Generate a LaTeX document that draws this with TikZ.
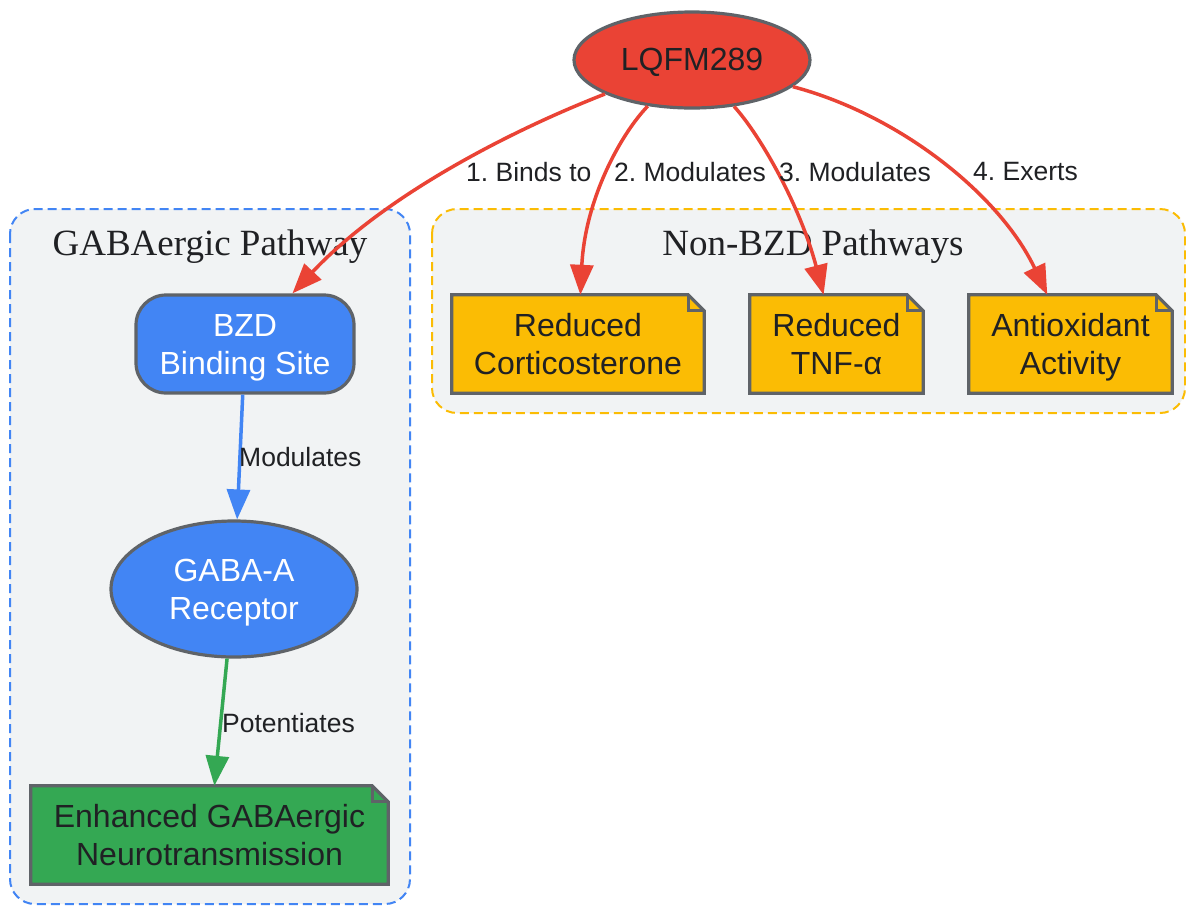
\documentclass[tikz,border=0pt]{standalone}
\usepackage{fontspec}
\setmainfont{Liberation Serif}
\newfontfamily\nodefont{Liberation Sans}
\usetikzlibrary{shapes.geometric,arrows.meta}
\definecolor{gblue}{HTML}{4285F4}
\definecolor{gred}{HTML}{EA4335}
\definecolor{gyellow}{HTML}{FBBC04}
\definecolor{ggreen}{HTML}{34A853}
\definecolor{gborder}{HTML}{5F6368}
\definecolor{gclust}{HTML}{F1F3F4}
\definecolor{gtext}{HTML}{202124}
\pgfdeclarelayer{bg}
\pgfdeclarelayer{notes}
\pgfsetlayers{bg,notes,main}
\frenchspacing
\newcommand\notedraw[2]{%
  \begin{pgfonlayer}{notes}
  \draw[line width=3.2pt, draw=gborder, fill=#2, line join=miter]
    (#1.south west) -- (#1.north west) -- ([xshift=-16pt]#1.north east)
    -- ([yshift=-16pt]#1.north east) -- (#1.south east) -- cycle;
  \draw[line width=3.2pt, draw=gborder, line join=miter]
    ([xshift=-16pt]#1.north east) -- ([xshift=-16pt,yshift=-16pt]#1.north east)
    -- ([yshift=-16pt]#1.north east);
  \end{pgfonlayer}}
\begin{document}
\begin{tikzpicture}[x=1pt,y=-1pt,
  base/.style={inner sep=0pt, align=center, font=\nodefont\fontsize{32}{37.3}\selectfont},
  twoline/.style={text height=61.3pt, text depth=1.3pt},
  ellnode/.style={base, ellipse, draw=gborder, line width=3.2pt},
  boxnode/.style={base, rectangle, rounded corners=30pt, draw=gborder, line width=3.2pt},
  notenode/.style={base, twoline, rectangle, text=gtext, minimum height=98pt},
  elabel/.style={inner sep=0pt, anchor=west, text=gtext, font=\nodefont\fontsize{26.5}{31}\selectfont},
  ctitle/.style={inner sep=0pt, anchor=base, text=gtext, font=\fontsize{37}{44}\selectfont},
  cluster/.style={line width=2pt, dash pattern=on 9pt off 5pt, rounded corners=25pt, fill=gclust},
  tip/.style={-{Triangle[length=30pt,width=23pt]}},
  redarrow/.style={draw=gred, line width=3.5pt, tip},
  bluearrow/.style={draw=gblue, line width=3.5pt, tip},
  greenarrow/.style={draw=ggreen, line width=3.5pt, tip}
]
\useasboundingbox (0,0) rectangle (1186,906);

% clusters
\begin{pgfonlayer}{bg}
\fill[white] (0,0) rectangle (1186,906);
\draw[cluster, draw=gblue] (10,209) rectangle (410,904);
\draw[cluster, draw=gyellow] (432,209) rectangle (1185,413);
\end{pgfonlayer}
\node[ctitle] (t1) at (210,255) {GABAergic Pathway};
\node[ctitle] (t2) at (813,255) {Non-BZD Pathways};

% nodes
\node[ellnode, fill=gred, text=gtext, text height=23pt, text depth=3pt, minimum width=236pt, minimum height=96pt] (lq) at (692,60) {LQFM289};
\node[boxnode, twoline, fill=gblue, text=white, minimum width=218pt, minimum height=98pt] (bzd) at (245,344) {BZD\\Binding Site};
\node[ellnode, twoline, fill=gblue, text=white, minimum width=246pt, minimum height=136pt] (gaba) at (234,589) {GABA-A\\Receptor};
\node[notenode, minimum width=357pt] (enh) at (209.5,835) {Enhanced GABAergic\\Neurotransmission};
\node[notenode, minimum width=252pt] (cort) at (578,344) {Reduced\\Corticosterone};
\node[notenode, minimum width=173pt] (tnf) at (836.5,344) {Reduced\\TNF-α};
\node[notenode, minimum width=203pt] (anti) at (1070.5,344) {Antioxidant\\Activity};
\notedraw{enh}{ggreen}
\notedraw{cort}{gyellow}
\notedraw{tnf}{gyellow}
\notedraw{anti}{gyellow}

% edges
\draw[redarrow] (lq) .. controls (500,135) and (380,200) .. (bzd);
\draw[redarrow] (lq) .. controls (620,135) and (585,200) .. (cort);
\draw[redarrow] (lq) .. controls (760,135) and (800,205) .. (tnf);
\draw[redarrow] (lq) .. controls (900,115) and (1000,195) .. (anti);
\draw[bluearrow] (bzd) -- (gaba);
\draw[greenarrow] (gaba) -- (enh);

% edge labels
\node[elabel] (l1) at (466,172) {1. Binds to};
\node[elabel] (l2) at (614,172) {2. Modulates};
\node[elabel] (l3) at (779,172) {3. Modulates};
\node[elabel] (l4) at (973,172) {4. Exerts};
\node[elabel] (l5) at (239,457) {Modulates};
\node[elabel] (l6) at (222,723) {Potentiates};
\end{tikzpicture}
\end{document}
